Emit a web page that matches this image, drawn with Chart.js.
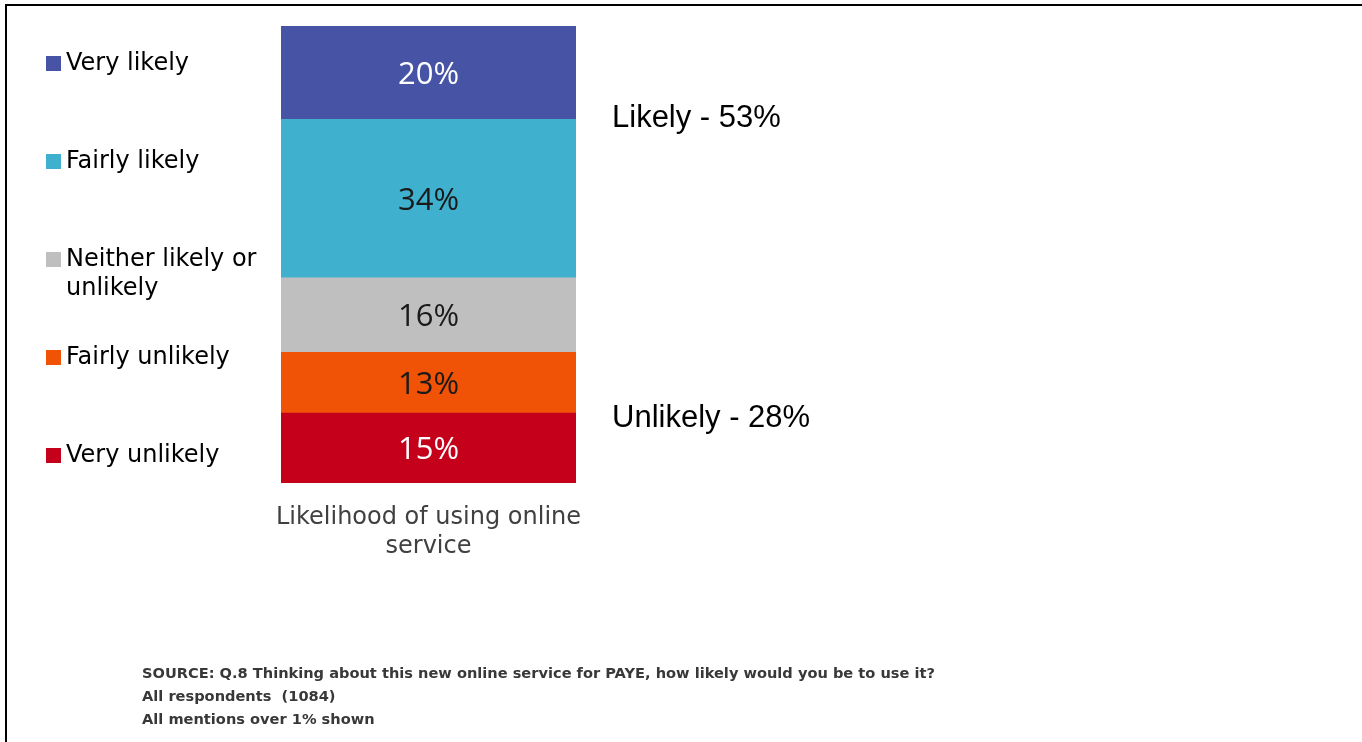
<!DOCTYPE html>
<html>
<head>
<meta charset="utf-8">
<title>Likelihood of using online service</title>
<script src="https://cdn.jsdelivr.net/npm/chart.js@4/dist/chart.umd.min.js"></script>
<style>
  body { margin: 0; background: #fff; }
  #wrap { width: 1362px; height: 742px; }
</style>
</head>
<body>
<div id="wrap"><canvas id="likelihoodChart" width="1362" height="742"></canvas></div>
<script>
// answers, listed from the top of the bar down
var answers = ['Very likely', 'Fairly likely', 'Neither likely or unlikely', 'Fairly unlikely', 'Very unlikely'];
var shares = [20, 34, 16, 13, 15];
var categories = [['Likelihood of using online', 'service']];
var netLabels = ['Likely - 53%', 'Unlikely - 28%'];
var sourceNotes = [
    'SOURCE: Q.8 Thinking about this new online service for PAYE, how likely would you be to use it?',
    'All respondents  (1084)',
    'All mentions over 1% shown'
];

var fills = ['#4754a5', '#3fb1ce', '#bfbfbf', '#f05206', '#c5001a'];
var valueColours = ['#ffffff', '#1a1a1a', '#1a1a1a', '#1a1a1a', '#ffffff'];

// stacked bar draws the first dataset at the bottom, so go in reverse
var datasets = [];
for (var i = answers.length - 1; i >= 0; i--) {
    datasets.push({
        label: answers[i],
        data: [shares[i]],
        backgroundColor: fills[i],
        borderWidth: 0,
        barPercentage: 1,
        categoryPercentage: 1,
        valueColour: valueColours[i]
    });
}

function wrapText(ctx, text, maxWidth) {
    var words = text.split(' ');
    var lines = [];
    var line = '';
    words.forEach(function (w) {
        var test = line ? line + ' ' + w : w;
        if (line && ctx.measureText(test).width > maxWidth) {
            lines.push(line);
            line = w;
        } else {
            line = test;
        }
    });
    lines.push(line);
    return lines;
}

var decorations = {
    id: 'decorations',
    afterDatasetsDraw: function (chart) {
        var ctx = chart.ctx;
        var area = chart.chartArea;
        ctx.save();

        // frame lines on the top and left
        ctx.fillStyle = '#000';
        ctx.fillRect(5, 4, chart.width - 5, 2);
        ctx.fillRect(5, 4, 2, chart.height - 4);

        // percentages in the middle of each segment
        ctx.font = '31px "Open Sans"';
        ctx.textAlign = 'center';
        ctx.textBaseline = 'alphabetic';
        chart.data.datasets.forEach(function (ds, di) {
            var bar = chart.getDatasetMeta(di).data[0];
            var mid = (bar.y + bar.base) / 2;
            ctx.fillStyle = ds.valueColour;
            ctx.fillText(ds.data[0] + '%', bar.x, mid + 11);
        });

        // category label under the bar
        var xs = chart.scales.x;
        ctx.font = '24px "DejaVu Sans"';
        ctx.fillStyle = '#404040';
        chart.data.labels[0].forEach(function (line, li) {
            ctx.fillText(line, xs.getPixelForValue(0), area.bottom + 41 + li * 29);
        });

        // legend on the left
        ctx.textAlign = 'left';
        ctx.font = '24px "DejaVu Sans"';
        answers.forEach(function (name, ai) {
            var base = 70 + ai * 98;
            ctx.fillStyle = fills[ai];
            ctx.fillRect(46, base - 14, 15, 15);
            ctx.fillStyle = '#000';
            wrapText(ctx, name, 200).forEach(function (line, li) {
                ctx.fillText(line, 66, base + li * 29);
            });
        });

        // net scores to the right
        ctx.font = '31px "Liberation Sans"';
        ctx.fillStyle = '#000';
        ctx.fillText(netLabels[0], area.right + 36, area.top + 101);
        ctx.fillText(netLabels[1], area.right + 36, area.top + 401);

        // source notes
        ctx.font = 'bold 14.6px "DejaVu Sans"';
        ctx.fillStyle = '#383838';
        sourceNotes.forEach(function (line, li) {
            ctx.fillText(line, 142, 678 + li * 23);
        });

        ctx.restore();
    }
};

var chart = new Chart(document.getElementById('likelihoodChart'), {
    type: 'bar',
    data: {
        labels: categories,
        datasets: datasets
    },
    options: {
        responsive: false,
        animation: false,
        layout: {
            padding: { left: 281, right: 786, top: 26, bottom: 259 }
        },
        scales: {
            x: { stacked: true, display: false },
            y: {
                stacked: true,
                display: false,
                min: 0,
                max: shares.reduce(function (a, b) { return a + b; }, 0)
            }
        },
        plugins: {
            legend: { display: false },
            tooltip: { enabled: false }
        }
    },
    plugins: [decorations]
});
</script>
</body>
</html>
